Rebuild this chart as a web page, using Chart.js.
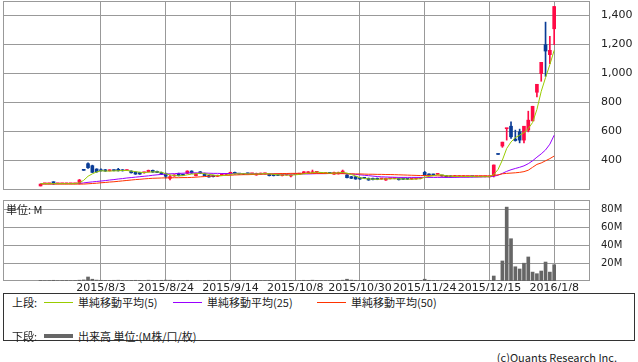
<!DOCTYPE html>
<html>
<head>
<meta charset="utf-8">
<script src="https://cdn.jsdelivr.net/npm/chart.js@4.4.0/dist/chart.umd.min.js"></script>
<style>
  body { margin: 0; background: #fff; width: 638px; height: 362px; position: relative; overflow: hidden;
         font-family: "Noto Sans CJK JP", sans-serif; font-size: 11px; color: #222; }
  canvas { position: absolute; left: 0; }
  #priceChart { top: 0; }
  #volChart { top: 195px; }
  .txt { position: absolute; line-height: 12px; white-space: nowrap; }
  #legend { position: absolute; left: 3px; top: 293px; width: 632px; height: 48px; border: 1px solid #333; box-sizing: border-box; }
  .swatch { position: absolute; height: 1px; width: 29px; }
</style>
</head>
<body>
<canvas id="priceChart" width="638" height="191"></canvas>
<canvas id="volChart" width="638" height="96"></canvas>
<div class="txt" style="left:6px; top:203px;">単位: M</div>
<div id="legend">
  <div class="txt" style="left:8px; top:2px;">上段:</div>
  <div class="swatch" style="left:40px; top:8px; background:#99cc00;"></div>
  <div class="txt" style="left:74px; top:2px;">単純移動平均(5)</div>
  <div class="swatch" style="left:169px; top:8px; background:#9900ff;"></div>
  <div class="txt" style="left:203px; top:2px;">単純移動平均(25)</div>
  <div class="swatch" style="left:313px; top:8px; background:#ff3300;"></div>
  <div class="txt" style="left:347px; top:2px;">単純移動平均(50)</div>
  <div class="txt" style="left:8px; top:36px;">下段:</div>
  <div class="swatch" style="left:40px; top:40px; height:4px; background:#666;"></div>
  <div class="txt" style="left:74px; top:36px;">出来高 単位:(M株/口/枚)</div>
</div>
<div class="txt" style="right:21px; top:351px;">(c)Quants Research Inc.</div>
<script>
"use strict";

// tick positions (trading-day index) and their labels
const tickIdx = [14, 29, 44, 59, 74, 89, 104, 119];
const tickLabels = ["2015/8/3", "2015/8/24", "2015/9/14", "2015/10/8", "2015/10/30", "2015/11/24", "2015/12/15", "2016/1/8"];
const priceTicks = [400, 600, 800, 1000, 1200, 1400];
const volTicks = [20, 40, 60, 80];

// daily OHLC, one entry per trading day (index 0..119)
const open = [
  221, 236, 236, 250, 236, 236, 236, 236, 236, 241,
  333, 375, 361, 338, 333, 333, 326, 331, 336, 331,
  327, 324, 317, 314, 312, 319, 329, 322, 315, 306,
  274, 290, 308, 299, 308, 324, 292, 319, 308, 292,
  294, 288, 297, 301, 303, 315, 306, 304, 308, 305,
  297, 303, 305, 303, 301, 299, 292, 297, 290, 301,
  303, 308, 308, 312, 315, 310, 308, 310, 303, 305,
  308, 297, 285, 285, 278, 276, 274, 274, 274, 269,
  262, 271, 272, 274, 274, 272, 268, 270, 272, 315,
  303, 301, 301, 292, 292, 290, 285, 285, 285, 285,
  286, 285, 285, 285, 284, 297, 441, 497, 617, 634,
  545, 595, 538, 607, 671, 869, 998, 1198, 1129, 1308
];
const high = [
  234, 237, 237, 250, 237, 237, 237, 237, 237, 266,
  333, 381, 365, 340, 340, 335, 333, 333, 343, 334,
  333, 326, 319, 316, 317, 331, 331, 324, 317, 310,
  297, 299, 310, 301, 326, 326, 310, 321, 310, 294,
  296, 296, 305, 307, 317, 317, 308, 306, 310, 308,
  310, 310, 310, 305, 303, 301, 303, 301, 298, 305,
  307, 321, 321, 331, 319, 312, 312, 312, 317, 317,
  331, 299, 287, 287, 280, 278, 276, 276, 276, 273,
  276, 274, 275, 276, 276, 274, 272, 274, 278, 322,
  305, 303, 305, 294, 294, 292, 294, 292, 292, 287,
  287, 286, 286, 286, 286, 366, 441, 524, 620, 664,
  607, 614, 634, 738, 772, 924, 1076, 1354, 1255, 1462
];
const low = [
  221, 236, 236, 232, 236, 236, 236, 236, 236, 234,
  329, 343, 313, 315, 324, 322, 324, 325, 324, 324,
  326, 310, 301, 301, 310, 317, 315, 312, 299, 276,
  262, 288, 290, 293, 306, 308, 290, 306, 290, 281,
  283, 286, 295, 299, 301, 303, 301, 299, 303, 303,
  295, 301, 303, 290, 290, 292, 290, 295, 283, 299,
  301, 306, 306, 310, 313, 306, 306, 306, 301, 303,
  306, 276, 272, 267, 267, 272, 260, 263, 264, 267,
  260, 269, 270, 262, 265, 265, 266, 268, 270, 295,
  295, 295, 299, 288, 281, 281, 283, 283, 283, 284,
  284, 284, 284, 284, 283, 283, 439, 488, 538, 550,
  531, 519, 519, 595, 671, 837, 945, 979, 1067, 1198
];
const close = [
  234, 237, 237, 236, 237, 237, 237, 237, 237, 262,
  329, 347, 315, 319, 326, 324, 331, 327, 326, 326,
  331, 312, 303, 303, 315, 329, 317, 314, 301, 288,
  285, 297, 292, 295, 324, 310, 308, 308, 292, 283,
  285, 294, 303, 305, 315, 305, 303, 301, 305, 306,
  308, 308, 308, 292, 292, 294, 301, 299, 296, 303,
  305, 319, 319, 315, 317, 308, 310, 308, 315, 315,
  324, 278, 274, 269, 269, 274, 262, 265, 266, 271,
  274, 272, 273, 264, 267, 267, 270, 272, 276, 297,
  297, 297, 303, 290, 283, 283, 292, 290, 290, 286,
  285, 285, 285, 285, 285, 366, 439, 524, 619, 561,
  535, 538, 634, 676, 772, 924, 1076, 1154, 1159, 1462
];

// moving averages
const ma5 = [
  237, 237, 237, 237, 237, 237, 237, 237, 237, 243,
  260, 288, 305, 318, 326, 324, 324, 325, 326, 328,
  328, 324, 320, 316, 313, 316, 318, 318, 316, 305,
  297, 293, 291, 292, 298, 303, 305, 310, 306, 301,
  297, 292, 292, 295, 301, 305, 305, 306, 305, 304,
  304, 305, 306, 305, 301, 298, 297, 296, 296, 298,
  301, 305, 309, 313, 317, 314, 312, 310, 310, 312,
  315, 310, 300, 290, 278, 272, 270, 268, 267, 268,
  270, 270, 271, 270, 269, 268, 268, 269, 271, 281,
  287, 292, 298, 298, 291, 288, 287, 287, 287, 286,
  286, 285, 285, 285, 285, 300, 335, 400, 480, 525,
  555, 572, 590, 618, 660, 750, 875, 970, 1060, 1159
];
const ma25 = [
  236, 236, 236, 236, 237, 237, 237, 237, 237, 238,
  242, 246, 249, 252, 255, 258, 262, 265, 269, 272,
  276, 279, 282, 285, 288, 291, 295, 298, 301, 303,
  305, 306, 308, 309, 311, 312, 311, 311, 310, 309,
  308, 308, 307, 307, 307, 306, 306, 306, 305, 305,
  305, 305, 305, 305, 304, 304, 303, 303, 303, 303,
  303, 304, 304, 305, 306, 306, 306, 307, 307, 308,
  309, 306, 304, 301, 298, 295, 292, 289, 286, 284,
  283, 282, 281, 280, 280, 280, 280, 280, 280, 280,
  280, 280, 280, 280, 280, 280, 280, 281, 281, 281,
  282, 282, 283, 284, 285, 288, 295, 308, 322, 333,
  342, 350, 360, 375, 395, 420, 443, 470, 510, 572
];
const ma50 = [
  234, 234, 234, 234, 234, 234, 234, 234, 234, 234,
  234, 236, 238, 240, 243, 245, 248, 250, 253, 256,
  259, 262, 265, 267, 270, 272, 274, 275, 276, 277,
  277, 278, 278, 279, 279, 280, 282, 284, 286, 288,
  290, 291, 293, 294, 295, 297, 298, 299, 299, 300,
  301, 302, 303, 304, 305, 306, 307, 307, 308, 308,
  308, 308, 308, 308, 308, 307, 307, 307, 306, 306,
  306, 305, 305, 304, 304, 303, 302, 302, 301, 301,
  300, 300, 299, 298, 297, 296, 295, 294, 293, 293,
  292, 292, 291, 291, 290, 290, 290, 290, 290, 290,
  290, 290, 290, 290, 290, 293, 298, 305, 308, 310,
  312, 315, 320, 330, 350, 370, 380, 395, 410, 428
];

// volume in millions of shares
const volume = [
  0.6, 0.4, 0.5, 0.8, 0.4, 0.5, 0.6, 0.4, 0.5, 0.9,
  1.2, 4.5, 2.0, 1.0, 0.8, 0.7, 0.6, 0.8, 0.9, 0.6,
  0.5, 0.7, 0.8, 0.6, 0.5, 0.9, 0.7, 0.6, 0.8, 1.0,
  0.9, 0.6, 0.7, 0.5, 0.8, 0.7, 0.6, 0.5, 0.7, 0.8,
  0.6, 0.5, 0.6, 0.5, 0.8, 0.6, 0.5, 0.5, 0.4, 0.5,
  0.6, 0.5, 0.5, 0.6, 0.5, 0.4, 0.6, 0.5, 0.5, 0.5,
  0.6, 0.8, 0.7, 0.9, 0.6, 0.5, 0.5, 0.5, 0.6, 0.7,
  0.9, 2.0, 1.0, 0.8, 0.6, 0.5, 0.7, 0.6, 0.5, 0.5,
  0.6, 0.5, 0.4, 0.6, 0.5, 0.5, 0.4, 0.5, 0.5, 2.0,
  0.8, 0.6, 0.5, 0.5, 0.6, 0.5, 0.5, 0.5, 0.4, 0.4,
  0.4, 0.4, 0.4, 0.4, 0.5, 5.6, 0.3, 22.5, 83, 47.5,
  16, 13.5, 20, 27, 10, 8.2, 11.2, 21.3, 10, 18.3
];

const UP = "#ff0a46";
const DOWN = "#0a3c96";
const GRID = "#999999";
const X_MIN = -8.7, X_MAX = 127.3;

Chart.defaults.font.family = "DejaVu Sans";
Chart.defaults.color = "#222";
Chart.defaults.animation = false;

const candleColor = open.map((o, i) => (close[i] >= open[i] ? UP : DOWN));
const wicks = low.map((l, i) => ({ x: i, y: [l, high[i]] }));
const bodies = open.map((o, i) => ({ x: i, y: [o, close[i]] }));
const line = (arr) => arr.map((v, i) => ({ x: i, y: v }));

// thin frame around the plot area
const frame = {
  id: "frame",
  beforeDatasetsDraw(chart) {
    const a = chart.chartArea;
    const ctx = chart.ctx;
    ctx.save();
    ctx.strokeStyle = GRID;
    ctx.lineWidth = 1;
    ctx.strokeRect(Math.round(a.left) + 0.5, Math.round(a.top) + 0.5,
      Math.round(a.right - a.left) - 1, Math.round(a.bottom - a.top) - 1);
    ctx.restore();
  },
};

function xScale(showLabels) {
  return {
    type: "linear",
    offset: false,
    min: X_MIN,
    max: X_MAX,
    afterBuildTicks: (s) => { s.ticks = tickIdx.map((v) => ({ value: v })); },
    ticks: {
      display: showLabels,
      padding: 1,
      maxRotation: 0,
      autoSkip: false,
      font: { size: 11 },
      callback: (v) => tickLabels[tickIdx.indexOf(v)],
    },
    grid: { color: GRID, drawTicks: false, offset: false },
    border: { display: false },
    afterFit: (s) => {
      s.height = showLabels ? 10 : 0;
      s.paddingLeft = 0;
      s.paddingRight = 0;
    },
  };
}

new Chart(document.getElementById("priceChart"), {
  type: "bar",
  data: {
    datasets: [
      { type: "line", data: line(ma5), borderColor: "#99cc00", borderWidth: 1, pointRadius: 0, order: 0 },
      { type: "line", data: line(ma50), borderColor: "#ff3300", borderWidth: 1, pointRadius: 0, order: 1 },
      { type: "line", data: line(ma25), borderColor: "#9900ff", borderWidth: 1, pointRadius: 0, order: 2 },
      { data: bodies, backgroundColor: candleColor, barThickness: 3, minBarLength: 1, grouped: false, order: 3 },
      { data: wicks, backgroundColor: candleColor, barThickness: 1, grouped: false, order: 4 },
    ],
  },
  options: {
    responsive: false,
    layout: { padding: { left: 3, top: 1, right: 0, bottom: 1 } },
    plugins: { legend: { display: false }, tooltip: { enabled: false } },
    scales: {
      x: xScale(false),
      y: {
        position: "right",
        min: 193,
        max: 1500,
        afterBuildTicks: (s) => { s.ticks = priceTicks.map((v) => ({ value: v })); },
        ticks: { padding: 11, font: { size: 11 }, callback: (v) => v.toLocaleString("en-US") },
        grid: { color: GRID, drawTicks: false },
        border: { display: false },
        afterFit: (s) => { s.width = 48; s.paddingTop = 0; s.paddingBottom = 0; },
      },
    },
  },
  plugins: [frame],
});

new Chart(document.getElementById("volChart"), {
  type: "bar",
  data: {
    datasets: [
      { data: line(volume), backgroundColor: "#666666", barThickness: 3, grouped: false },
    ],
  },
  options: {
    responsive: false,
    layout: { padding: { left: 3, top: 5, right: 0, bottom: 0 } },
    plugins: { legend: { display: false }, tooltip: { enabled: false } },
    scales: {
      x: xScale(true),
      y: {
        position: "right",
        min: 0,
        max: 91,
        afterBuildTicks: (s) => { s.ticks = volTicks.map((v) => ({ value: v })); },
        ticks: { padding: 11, font: { size: 10 }, callback: (v) => v + "M" },
        grid: { color: GRID, drawTicks: false },
        border: { display: false },
        afterFit: (s) => { s.width = 48; s.paddingTop = 0; s.paddingBottom = 0; },
      },
    },
  },
  plugins: [frame],
});
</script>
</body>
</html>
